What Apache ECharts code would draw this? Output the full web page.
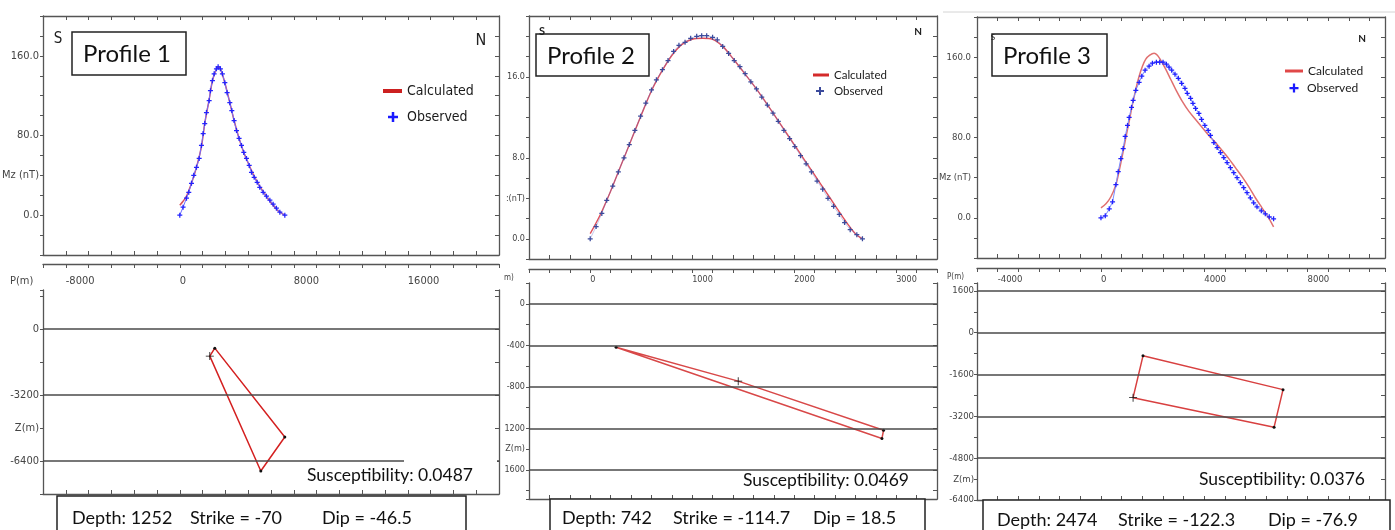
<!DOCTYPE html>
<html><head><meta charset="utf-8">
<script src="https://cdn.jsdelivr.net/npm/echarts@6/dist/echarts.min.js"></script>
<style>html,body{margin:0;padding:0;background:#fff}#c{width:1395px;height:530px}</style>
</head><body><div id="c"></div>
<script>
// ---------------- DATA ----------------
// Profile 1
const P1_OBS_X = [0,230,470,630,820,980,1170,1360,1520,1640,1750,1870,2060,2150,2290,2410,2570,2690,2850,2990,3160,3320,3510,3650,3810,3980,4160,4330,4490,4680,4870,5030,5220,5430,5610,5850,6080,6320,6550,6780,7020,7370];
const P1_OBS_Y = [0,8,17,23,32,40,48,57,70,82,92,103,115,125,135,142,147,149,147,142,133,123,113,105,95,85,77,70,63,57,50,43,38,33,28,23,19,15,11,7,3,0];
const P1_CALC_X = [0,230,470,820,1170,1520,1750,2060,2290,2570,2700,2850,3160,3510,3810,4160,4490,4870,5220,5610,6080,6550,7020,7370];
const P1_CALC_Y = [10,14,19,32,48,69,92,116,135,147,149,147,133,113,95,77,63,50,39,29,19,10,3,0];
const P1_BODY_X = [2456,7368,5684,2105];
const P1_BODY_Z = [-921,-5236,-6885,-1309];
const P1_BODY_CROSS = 3;
const P1_LEVELS = [0,-3200,-6400];
const P1_X_TICKS = [-8000,0,8000,16000];
const P1_Y_TICKS = [160,80,40,0];
const P1_Y_TEXT = ['160.0','80.0','Mz (nT)','0.0'];
const P1_Z_TICKS = [0,-3200,-4800,-6400];
const P1_Z_TEXT = ['0','-3200','Z(m)','-6400'];

// Profile 2
const P2_OBS_X = [0,58,114,162,221,276,331,383,438,494,545,601,649,708,763,818,870,930,985,1044,1093,1142,1200,1246,1299,1357,1412,1468,1519,1575,1630,1682,1737,1792,1844,1899,1955,2006,2062,2117,2169,2224,2279,2331,2386,2442,2494,2549,2614,2669];
const P2_OBS_Y = [0,1.2,2.5,3.8,5.2,6.6,8.0,9.3,10.7,12.1,13.4,14.7,15.7,16.7,17.6,18.5,19.1,19.4,19.8,20.0,20.05,20.05,19.9,19.65,19.0,18.3,17.6,17.0,16.3,15.5,14.8,14.0,13.2,12.4,11.6,10.7,9.9,9.1,8.2,7.4,6.6,5.7,4.9,4.0,3.2,2.4,1.6,0.9,0.4,0];
const P2_CALC_X = [0,100,200,300,400,500,600,700,800,900,1000,1100,1200,1300,1400,1500,1600,1700,1800,1900,2000,2100,2200,2300,2400,2500,2600,2669];
const P2_CALC_Y = [0.5,2.4,4.7,7.2,9.7,12.2,14.6,16.5,18.1,19.2,19.7,19.8,19.7,19.0,17.8,16.5,15.2,13.8,12.3,10.8,9.3,7.8,6.3,4.8,3.3,1.8,0.5,0];
const P2_BODY_X = [254,1451,2876,2860];
const P2_BODY_Z = [-418,-745,-1218,-1298];
const P2_BODY_CROSS = 1;
const P2_LEVELS = [0,-400,-800,-1200,-1600];
const P2_X_TICKS = [0,1000,2000,3000];
const P2_Y_TICKS = [16,8,4,0];
const P2_Y_TEXT = ['16.0','8.0',':(nT)','0.0'];
const P2_Z_TICKS = [0,-400,-800,-1200,-1400,-1600];
const P2_Z_TEXT = ['0','-400','-800','1200','Z(m)','1600'];

// Profile 3
const P3_OBS_X = [0,167,321,450,579,669,771,861,939,1029,1093,1183,1247,1350,1478,1581,1710,1864,1993,2147,2276,2404,2533,2636,2739,2867,2996,3124,3253,3343,3471,3561,3664,3793,3896,4024,4153,4243,4371,4500,4628,4757,4886,5014,5143,5271,5400,5528,5657,5786,5914,6043,6210,6364,6518,6686];
const P3_OBS_Y = [0,2,9,16,33,46,59,69,81,92,100,110,117,127,135,141,147,151,154,155,155,155,153,150,147,143,139,134,129,124,119,114,109,104,98,92,87,82,75,70,65,60,55,50,45,40,35,30,25,20,15,11,7,4,1,-1];
const P3_CALC_X = [0,193,386,579,707,836,964,1093,1221,1350,1478,1607,1736,1890,2057,2186,2314,2507,2700,2893,3150,3407,3664,3921,4178,4436,4693,4950,5207,5464,5721,5979,6236,6493,6686];
const P3_CALC_Y = [10,14,21,33,47,63,80,96,113,128,141,151,158,162,164,162,157,148,138,128,116,106,98,90,82,75,67,59,50,41,31,20,10,0,-9];
const P3_BODY_X = [1628,7051,6705,1244];
const P3_BODY_Z = [-885,-2179,-3615,-2487];
const P3_BODY_CROSS = 3;
const P3_LEVELS = [1600,0,-1600,-3200,-4800];
const P3_X_TICKS = [-4000,0,4000,8000];
const P3_Y_TICKS = [160,80,40,0];
const P3_Y_TEXT = ['160.0','80.0','Mz (nT)','0.0'];
const P3_Z_TICKS = [1600,0,-1600,-3200,-4800,-5600,-6400];
const P3_Z_TEXT = ['1600','0','-1600','-3200','-4800','Z(m)','-6400'];

// Texts
const TITLES = ['Profile 1','Profile 2','Profile 3'];
const SUSC = ['Susceptibility: 0.0487','Susceptibility: 0.0469','Susceptibility: 0.0376'];
const DEPTH = ['Depth: 1252','Depth: 742','Depth: 2474'];
const STRIKE = ['Strike = -70','Strike = -114.7','Strike = -122.3'];
const DIP = ['Dip = -46.5','Dip = 18.5','Dip = -76.9'];
const PM_TEXT = ['P(m)','m)','P(m)'];
const SERIES_NAMES = ['Calculated','Observed'];

// ---------------- LAYOUT / STYLE ----------------
const NARROW = "'Liberation Sans Narrow','DejaVu Sans Condensed',Arial,sans-serif";
const HUM = "Lato,'Open Sans',sans-serif";
const AXC = '#555';
const PLUS = 'path://M3,0H5V3H8V5H5V8H3V5H0V3H3Z';
const THIN_CROSS = 'path://M4.5,0H5.5V4.5H10V5.5H5.5V10H4.5V5.5H0V4.5H4.5Z';

const PANELS = [
  { obsX:P1_OBS_X, obsY:P1_OBS_Y, calcX:P1_CALC_X, calcY:P1_CALC_Y, bodyX:P1_BODY_X, bodyZ:P1_BODY_Z, cross:P1_BODY_CROSS, levels:P1_LEVELS,
    xTicks:P1_X_TICKS, yTicks:P1_Y_TICKS, yText:P1_Y_TEXT, zTicks:P1_Z_TICKS, zText:P1_Z_TEXT },
  { obsX:P2_OBS_X, obsY:P2_OBS_Y, calcX:P2_CALC_X, calcY:P2_CALC_Y, bodyX:P2_BODY_X, bodyZ:P2_BODY_Z, cross:P2_BODY_CROSS, levels:P2_LEVELS,
    xTicks:P2_X_TICKS, yTicks:P2_Y_TICKS, yText:P2_Y_TEXT, zTicks:P2_Z_TICKS, zText:P2_Z_TEXT },
  { obsX:P3_OBS_X, obsY:P3_OBS_Y, calcX:P3_CALC_X, calcY:P3_CALC_Y, bodyX:P3_BODY_X, bodyZ:P3_BODY_Z, cross:P3_BODY_CROSS, levels:P3_LEVELS,
    xTicks:P3_X_TICKS, yTicks:P3_Y_TICKS, yText:P3_Y_TEXT, zTicks:P3_Z_TICKS, zText:P3_Z_TEXT }
];

const LAYOUT = [
  { top:{left:43,top:16,width:456,height:239}, bot:{left:43,top:290,width:456,height:204},
    xr:{min:-9600,max:22400,interval:1600}, yr:{min:-40,max:200,interval:20}, zr:{min:-8000,max:1900,interval:1600},
    fs:11, yMargin:4, zMargin:4, topOff:26, xLabMargin:17,
    calcColor:'#d9505e', calcW:1.5, obsColor:'#2323ff', obsLine:'#6f6fff', obsSize:5, bodyColor:'#d42020',
    box:{x:72,y:32,w:114,h:43,tx:83,ty:54,fs:24},
    S:{x:58,y:39,fs:15,w:'normal'}, N:{x:481,y:41,fs:16,w:'normal'},
    leg:{cx:383,cy:91,cw:19,ch:4,cc:'#cc2020',ox:388,oy:117,os:10,oc:'#1a1aff',tx:407,fs:14,font:NARROW},
    susc:{x:307,y:475}, info:{x:57,y:496,w:409,h:40,xs:[72,190,322],ty:518},
    pm:{x:10,y:281,fs:11}, cover:{x:404,y:455,w:93,h:10} },
  { top:{left:529,top:16,width:408,height:243}, bot:{left:529,top:283,width:408,height:216},
    xr:{min:-600,max:3400,interval:200}, yr:{min:-2,max:22,interval:2}, zr:{min:-1880,max:200,minInterval:200,maxInterval:200,splitNumber:10},
    fs:9, yMargin:4, zMargin:4, topOff:14, xLabMargin:11,
    calcColor:'#e0505a', calcW:1.4, obsColor:'#3b4a9c', obsLine:'rgba(90,100,200,0.35)', obsSize:5, bodyColor:'#d84848',
    box:{x:536,y:34,w:113,h:42,tx:547,ty:56,fs:24},
    S:{x:542,y:31,fs:11,w:'bold'}, N:{x:918,y:32,fs:10,w:'bold'},
    leg:{cx:813,cy:75,cw:16,ch:3,cc:'#d42a2a',ox:816,oy:91,os:8,oc:'#3b4a9c',tx:834,fs:11.5,font:HUM},
    susc:{x:743,y:480}, info:{x:550,y:499,w:375,h:40,xs:[562,673,813],ty:518},
    pm:{x:504,y:278,fs:8} },
  { top:{left:977,top:17,width:408,height:241}, bot:{left:977,top:283,width:408,height:217},
    xr:{min:-4800,max:11000,interval:800}, yr:{min:-40,max:200,interval:20}, zr:{min:-6400,max:1900,interval:800},
    fs:9.5, yMargin:6, zMargin:3, topOff:15, xLabMargin:12,
    calcColor:'#e07070', calcW:1.5, obsColor:'#1f1fff', obsLine:'#7a8cff', obsSize:5, bodyColor:'#d84040',
    box:{x:992,y:34,w:115,h:42,tx:1003,ty:56,fs:24},
    S:{x:993,y:37,fs:8,w:'normal'}, N:{x:1362,y:39,fs:10,w:'bold'},
    leg:{cx:1285,cy:71,cw:18,ch:3,cc:'#e04848',ox:1289.5,oy:88,os:9,oc:'#1a1aff',tx:1307,fs:12,font:HUM},
    susc:{x:1199,y:479}, info:{x:983,y:500,w:407,h:40,xs:[997,1118,1268],ty:520},
    pm:{x:947,y:277,fs:8} }
];

// ---------------- BUILD ----------------
function zip(xs, ys){ return xs.map((x,i)=>[x, ys[i]]); }
function fmt(ticks, texts){
  return function(v){
    for (let i=0;i<ticks.length;i++){ if (Math.abs(ticks[i]-v) < 1e-6*Math.max(1,Math.abs(v))) return texts ? texts[i] : String(ticks[i]); }
    return '';
  };
}
function rangeOpts(r){
  const o = {min:r.min, max:r.max};
  ['interval','minInterval','maxInterval','splitNumber'].forEach(k=>{ if (r[k]!=null) o[k]=r[k]; });
  return o;
}
function axis(gridIndex, position, r, extra){
  const a = Object.assign({
    type:'value', gridIndex, position,
    axisLine:{show:true, onZero:false, lineStyle:{color:AXC, width:1.3}},
    axisTick:{show:true, inside:true, length:4, lineStyle:{color:AXC, width:1}},
    axisLabel:{show:false},
    splitLine:{show:false}
  }, rangeOpts(r));
  return Object.assign(a, extra || {});
}

const grid=[], xAxis=[], yAxis=[], series=[], legend=[], graphic=[];
PANELS.forEach((P, p)=>{
  const L = LAYOUT[p];
  grid.push(Object.assign({outerBoundsMode:'none', containLabel:false}, L.top));
  grid.push(Object.assign({outerBoundsMode:'none', containLabel:false}, L.bot));
  const gT = 2*p, gB = 2*p+1;
  const labStyle = {fontFamily:NARROW, fontSize:L.fs, color:'#444'};
  // top grid axes
  xAxis.push(axis(gT,'bottom',L.xr));
  xAxis.push(axis(gT,'top',L.xr));
  yAxis.push(axis(gT,'left',L.yr,{
    axisTick:{show:true, inside:false, length:3, lineStyle:{color:AXC,width:1}},
    axisLabel:Object.assign({show:true, margin:L.yMargin, formatter:fmt(P.yTicks,P.yText), showMinLabel:true, showMaxLabel:true}, labStyle)
  }));
  yAxis.push(axis(gT,'right',L.yr));
  // bottom grid axes
  xAxis.push(axis(gB,'top',L.xr,{
    offset:L.topOff,
    axisLabel:Object.assign({show:true, inside:true, margin:L.xLabMargin, align:'left', verticalAlign:'middle',
      formatter:fmt(P.xTicks,null), showMinLabel:true, showMaxLabel:true}, labStyle)
  }));
  xAxis.push(axis(gB,'bottom',L.xr));
  yAxis.push(axis(gB,'left',L.zr,{
    axisTick:{show:true, inside:false, length:3, lineStyle:{color:AXC,width:1}},
    axisLabel:Object.assign({show:true, margin:L.zMargin, formatter:fmt(P.zTicks,P.zText), showMinLabel:true, showMaxLabel:true}, labStyle)
  }));
  yAxis.push(axis(gB,'right',L.zr));

  // curves
  series.push({type:'line', name:SERIES_NAMES[0], xAxisIndex:4*p, yAxisIndex:4*p, data:zip(P.calcX,P.calcY),
    symbol:'none', showSymbol:false, smooth:0.3, lineStyle:{color:L.calcColor, width:L.calcW}, itemStyle:{color:L.calcColor}, z:3, silent:true});
  series.push({type:'line', name:SERIES_NAMES[1], xAxisIndex:4*p, yAxisIndex:4*p, data:zip(P.obsX,P.obsY),
    symbol:PLUS, symbolSize:L.obsSize, showSymbol:true, lineStyle:{color:L.obsLine, width:1}, itemStyle:{color:L.obsColor}, z:4, silent:true});
  // body polygon + level lines
  const verts = zip(P.bodyX, P.bodyZ);
  const poly = verts.concat([verts[0]]).map((pt,i)=>({
    value:pt,
    symbol: i===verts.length ? 'none' : (i===P.cross ? THIN_CROSS : 'circle'),
    symbolSize: i===P.cross ? 8 : 3
  }));
  series.push({type:'line', name:'body'+p, xAxisIndex:4*p+2, yAxisIndex:4*p+2, data:poly, showSymbol:true,
    lineStyle:{color:L.bodyColor, width:1.5}, itemStyle:{color:'#111'}, z:3, silent:true,
    markLine:{silent:true, symbol:['none','none'], label:{show:false}, animation:false,
      lineStyle:{color:'#4a4a4a', width:1.5, type:'solid'}, data:P.levels.map(z=>({yAxis:z}))}});

  // legends
  const lg = L.leg;
  legend.push({show:true, selectedMode:false, orient:'vertical', padding:0, left:lg.cx, top:lg.cy-8,
    itemWidth:lg.cw, itemHeight:lg.ch,
    textStyle:{fontFamily:lg.font, fontSize:lg.fs, color:'#1a1a1a', lineHeight:16},
    data:[{name:SERIES_NAMES[0], icon:'rect', itemStyle:{color:lg.cc, borderWidth:0}, lineStyle:{width:0}}]});
  legend.push({show:true, selectedMode:false, orient:'vertical', padding:0, left:lg.ox, top:lg.oy-8,
    itemWidth:lg.os, itemHeight:lg.os,
    textStyle:{fontFamily:lg.font, fontSize:lg.fs, color:'#1a1a1a', lineHeight:16, padding:[0,0,0,lg.tx-(lg.ox+lg.os+5)]},
    data:[{name:SERIES_NAMES[1], icon:PLUS, itemStyle:{color:lg.oc, borderWidth:0}, lineStyle:{width:0}}]});

  // graphics
  const b = L.box;
  graphic.push({type:'rect', shape:{x:b.x,y:b.y,width:b.w,height:b.h}, style:{fill:'#fff', stroke:'#222', lineWidth:1.5}, z:100});
  graphic.push({type:'text', x:b.tx, y:b.ty, style:{text:TITLES[p], fontFamily:HUM, fontSize:b.fs, fill:'#111', align:'left', verticalAlign:'middle'}, z:101});
  graphic.push({type:'text', x:L.S.x, y:L.S.y, style:{text:'S', fontFamily:p===0?NARROW:HUM, fontSize:L.S.fs, fontWeight:L.S.w, fill:'#222', align:'center', verticalAlign:'middle'}, z:102});
  graphic.push({type:'text', x:L.N.x, y:L.N.y, style:{text:'N', fontFamily:p===0?NARROW:HUM, fontSize:L.N.fs, fontWeight:L.N.w, fill:'#222', align:'center', verticalAlign:'middle'}, z:102});
  if (L.cover) graphic.push({type:'rect', shape:{x:L.cover.x,y:L.cover.y,width:L.cover.w,height:L.cover.h}, style:{fill:'#fff'}, z:100});
  graphic.push({type:'text', x:L.susc.x, y:L.susc.y, style:{text:SUSC[p], fontFamily:HUM, fontSize:17.5, fill:'#111', align:'left', verticalAlign:'middle'}, z:101});
  const inf = L.info;
  graphic.push({type:'rect', shape:{x:inf.x,y:inf.y,width:inf.w,height:inf.h}, style:{fill:'#fff', stroke:'#222', lineWidth:1.5}, z:100});
  [DEPTH[p], STRIKE[p], DIP[p]].forEach((t,i)=>{
    graphic.push({type:'text', x:inf.xs[i], y:inf.ty, style:{text:t, fontFamily:HUM, fontSize:18, fill:'#111', align:'left', verticalAlign:'middle'}, z:101});
  });
  graphic.push({type:'text', x:L.pm.x, y:L.pm.y, style:{text:PM_TEXT[p], fontFamily:NARROW, fontSize:L.pm.fs, fill:'#444', align:'left', verticalAlign:'middle'}, z:101});
});
graphic.push({type:'line', shape:{x1:943,y1:12,x2:1395,y2:12}, style:{stroke:'#d4d4d4', lineWidth:1}, z:50});

const chart = echarts.init(document.getElementById('c'), null, {renderer:'canvas', width:1395, height:530});
chart.setOption({
  animation:false,
  backgroundColor:'#fff',
  grid, xAxis, yAxis, series, legend, graphic
});
</script>
</body></html>
